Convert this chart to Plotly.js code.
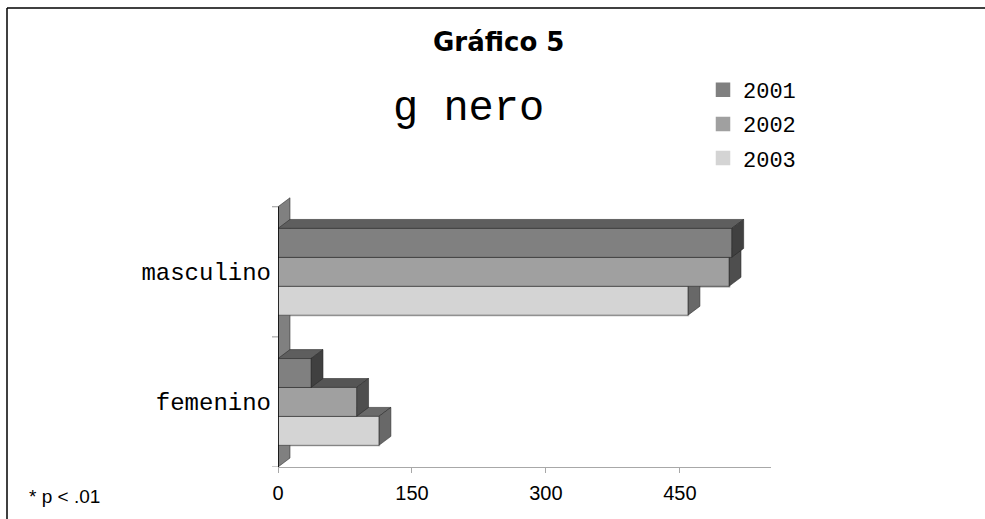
<!DOCTYPE html>
<html>
<head>
<meta charset="utf-8">
<script src="https://cdn.plot.ly/plotly-3.0.1.min.js"></script>
<style>
html,body{margin:0;padding:0;background:#fff;}
#chart{width:985px;height:519px;}
</style>
</head>
<body>
<div id="chart"></div>
<script>
// ---- data ----
const categories = ['masculino', 'femenino'];
const seriesNames = ['2001', '2002', '2003'];
const values2001 = [508, 37];
const values2002 = [505, 88];
const values2003 = [459, 113];
const xTickVals = [0, 150, 300, 450];
const xTickText = ['0', '150', '300', '450'];

// ---- style ----
const frontColors = ['#808080', '#a0a0a0', '#d4d4d4'];
const topColors   = ['#5e5e5e', '#555555', '#6a6a6a'];
const sideColors  = ['#404040', '#4e4e4e', '#686868'];
const edgeColor = 'rgba(40,40,40,0.7)';
const depthX = 13.4;     // 3D depth in value units
const depthY = 0.069;    // 3D depth in category units
const bargap = 0.333;
const nSeries = 3;
const barH = (1 - bargap) / nSeries;

const allValues = [values2001, values2002, values2003];
const catIdx = categories.map((c, i) => i);

const traces = [];
// legend / base bars
allValues.forEach((vals, s) => {
  traces.push({
    type: 'bar', orientation: 'h', name: seriesNames[s],
    x: vals, y: catIdx,
    marker: {color: frontColors[s], line: {color: frontColors[s], width: 2.5}},
    hoverinfo: 'skip', legendgroup: 'g' + s
  });
});

function poly(xs, ys, color) {
  return {
    type: 'scatter', mode: 'lines', x: xs.concat([xs[0]]), y: ys.concat([ys[0]]),
    fill: 'toself', fillcolor: color, line: {color: edgeColor, width: 0.8},
    showlegend: false, hoverinfo: 'skip'
  };
}

// back-left wall
traces.push(poly(
  [0, depthX, depthX, 0],
  [categories.length - 0.5, categories.length - 0.5 - depthY, -0.5 - depthY, -0.5],
  '#808080'));

// 3D bars, painter's order: bottom bar first within each category
catIdx.forEach(ci => {
  for (let s = nSeries - 1; s >= 0; s--) {
    const v = allValues[s][ci];
    const yc = ci + (s - (nSeries - 1) / 2) * barH;
    const yT = yc - barH / 2, yB = yc + barH / 2;
    traces.push(poly([0, depthX, v + depthX, v], [yT, yT - depthY, yT - depthY, yT], topColors[s]));
    traces.push(poly([v, v + depthX, v + depthX, v], [yT, yT - depthY, yB - depthY, yB], sideColors[s]));
    traces.push(poly([0, v, v, 0], [yT, yT, yB, yB], frontColors[s]));
  }
});

const L = 278, R = 771, T = 197, B = 467;
const W = 985, H = 519;
const px = x => (x - L) / (R - L);
const py = y => (B - y) / (B - T);

const layout = {
  width: W, height: H,
  margin: {l: L, r: W - R, t: T, b: H - B, pad: 0},
  paper_bgcolor: '#ffffff', plot_bgcolor: 'rgba(0,0,0,0)',
  barmode: 'group', bargap: bargap, bargroupgap: 0,
  showlegend: true,
  legend: {
    x: px(703), y: py(69), xanchor: 'left', yanchor: 'top',
    font: {family: '"Liberation Mono", "Courier New", monospace', size: 22, color: '#000'},
    traceorder: 'grouped', tracegroupgap: 2.5, bgcolor: 'rgba(0,0,0,0)', itemclick: false
  },
  xaxis: {
    range: [0, 552], tickvals: xTickVals, ticktext: xTickText,
    showgrid: false, zeroline: false, showline: true, linecolor: '#a8a8a8', linewidth: 1,
    ticks: 'outside', ticklen: 5, tickcolor: '#a8a8a8', ticklabelstandoff: 3,
    tickfont: {family: '"Liberation Sans", Arial, sans-serif', size: 20, color: '#000'},
    fixedrange: true
  },
  yaxis: {
    range: [1.5, -0.575], tickvals: catIdx, ticktext: categories,
    showgrid: false, zeroline: false, showline: false, ticks: '',
    ticklabelstandoff: 6,
    tickfont: {family: '"Liberation Mono", "Courier New", monospace', size: 24, color: '#000'},
    fixedrange: true
  },
  shapes: [
    // front value-axis line (left)
    {type: 'line', xref: 'x', yref: 'y', x0: 0, x1: 0, y0: -0.5, y1: 1.5, line: {color: '#000', width: 1.5}},
    // category separator ticks
    {type: 'line', xref: 'paper', yref: 'y', x0: px(272), x1: 0, y0: -0.5, y1: -0.5, line: {color: '#999', width: 1}},
    {type: 'line', xref: 'paper', yref: 'y', x0: px(272), x1: 0, y0: 0.5, y1: 0.5, line: {color: '#999', width: 1}},
    {type: 'line', xref: 'paper', yref: 'y', x0: px(272), x1: 0, y0: 1.5, y1: 1.5, line: {color: '#999', width: 1}},
    // chart frame (left & top)
    {type: 'line', xref: 'paper', yref: 'paper', x0: px(7), x1: px(7), y0: py(8), y1: py(530), line: {color: '#000', width: 1.5}},
    {type: 'line', xref: 'paper', yref: 'paper', x0: px(7), x1: px(990), y0: py(8), y1: py(8), line: {color: '#000', width: 1.5}}
  ],
  annotations: [
    {text: '<b>Gráfico 5</b>', xref: 'paper', yref: 'paper', x: px(498), y: py(42), xanchor: 'center', yanchor: 'middle',
     showarrow: false, font: {family: '"DejaVu Sans", sans-serif', size: 26, color: '#000'}},
    {text: 'g nero', xref: 'paper', yref: 'paper', x: px(468), y: py(109), xanchor: 'center', yanchor: 'middle',
     showarrow: false, font: {family: '"Liberation Mono", "Courier New", monospace', size: 42, color: '#000'}},
    {text: '* p < .01', xref: 'paper', yref: 'paper', x: px(27), y: py(496), xanchor: 'left', yanchor: 'middle',
     showarrow: false, font: {family: '"Liberation Sans", Arial, sans-serif', size: 19, color: '#000'}}
  ]
};

Plotly.newPlot('chart', traces, layout, {displayModeBar: false, staticPlot: true});
</script>
</body>
</html>
